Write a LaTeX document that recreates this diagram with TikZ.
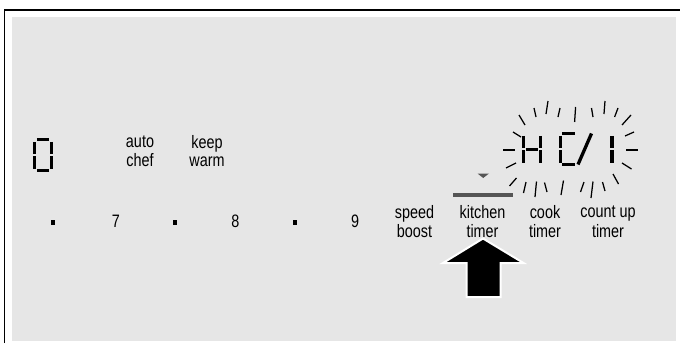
\documentclass[tikz,border=0pt]{standalone}
\usepackage{fontspec}
\setmainfont{Liberation Sans}[FakeStretch=0.8]
\definecolor{panel}{HTML}{E6E6E6}
\definecolor{marker}{HTML}{555555}

\begin{document}
\begin{tikzpicture}[
    x=1pt, y=-1pt,
    keytext/.style={font=\fontsize{18}{18.3}\selectfont, inner sep=0pt,
                    align=center},
    numkey/.style={font=\fontsize{18}{18.3}\selectfont, inner sep=0pt,
                   anchor=base},
    dotkey/.style={fill=black, inner sep=0pt, minimum width=4.6pt,
                   minimum height=5pt},
    selbar/.style={fill=marker, inner sep=0pt, minimum width=60pt,
                   minimum height=4pt},
    seg/.style={line width=3.3pt, line cap=butt},
    ray/.style={line width=1.25pt},
    pointer/.style={fill=black, draw=white, line width=2pt, line join=miter},
]
\useasboundingbox (0,0) rectangle (680,343);
\fill[panel] (12,17) rectangle (676,341);
\draw[line width=1.6pt] (4.6,343) -- (4.6,10) -- (680,10);

% left power level digit
\begin{scope}[shift={(34.7,139.7)}]
  \draw[seg] (2.2,0) -- (14.3,0) (16.5,2.2) -- (16.5,14.3)
             (16.5,16.7) -- (16.5,28.8) (14.3,31) -- (2.2,31)
             (0,28.8) -- (0,16.7) (0,14.3) -- (0,2.2);
\end{scope}

% timer display
\begin{scope}[shift={(523.7,133.7)}]
  \draw[seg] (0,2.2) -- (0,14.3) (0,16.7) -- (0,28.8)
             (16.5,2.2) -- (16.5,14.3) (16.5,16.7) -- (16.5,28.8)
             (2.2,15.5) -- (14.3,15.5);
\end{scope}
\begin{scope}[shift={(560.2,133.7)}]
  \draw[seg] (14.3,0) -- (2.2,0) (0,2.2) -- (0,14.3)
             (0,16.7) -- (0,28.8) (2.2,31) -- (14.3,31);
\end{scope}
\draw[seg] (578,164.5) -- (591.5,133.5);
\begin{scope}[shift={(595.5,133.7)}]
  \draw[seg] (16.5,2.2) -- (16.5,14.3) (16.5,16.7) -- (16.5,28.8);
\end{scope}

% flashing rays
\foreach \xa/\ya/\xb/\yb in {
    513/132/521/137, 503/150/515/150, 506/168/516/163,
    519/115/525/125, 534/108/536/117, 548/101/546/114,
    560/108/558/117, 575.6/107/574.6/122, 591.5/108/593/117,
    605/101/604/114, 618/108/614.6/117, 631/115/622/125,
    634/132/625/136, 637.6/150/626/150, 631.5/169/622/163,
    509.5/186/516.5/178, 523.5/193/526/182, 535/197/536.5/181.5,
    544.5/182.5/547/192, 561/195/563.5/180.5, 580.5/192/584/182,
    591/198/593/181.5, 602.5/182/605/191, 613/174/618.5/184}
  \draw[ray] (\xa,\ya) -- (\xb,\yb);

% key labels
\node[keytext] (auto) at (140,153.5) {\strut auto\\chef\strut};
\node[keytext] (keep) at (207,153.5) {\strut keep\\warm\strut};

\node[dotkey] (dot1) at (53,222.5) {};
\node[numkey] (seven) at (116,227) {7};
\node[dotkey] (dot2) at (175,222.5) {};
\node[numkey] (eight) at (235.5,227) {8};
\node[dotkey] (dot3) at (295,222.5) {};
\node[numkey] (nine) at (355,227) {9};

\node[keytext] (speed) at (414.5,224) {\strut speed\\boost\strut};
\node[keytext] (kitchen) at (482.5,224) {\strut kitchen\\timer\strut};
\node[keytext] (cook) at (545,224) {\strut cook\\timer\strut};
\node[keytext] (countup) at (608,224) {\strut count up\\timer\strut};

% selected key marker
\node[selbar] (sel) at (483,195) {};
\fill[marker] (477.5,173.5) -- (489,173.5) -- (483.2,178) -- cycle;

% touch arrow
\draw[pointer] (483,238.5) -- (523.5,263) -- (500.5,263) -- (500.5,297)
  -- (466.5,297) -- (466.5,263) -- (443,263) -- cycle;
\end{tikzpicture}
\end{document}
